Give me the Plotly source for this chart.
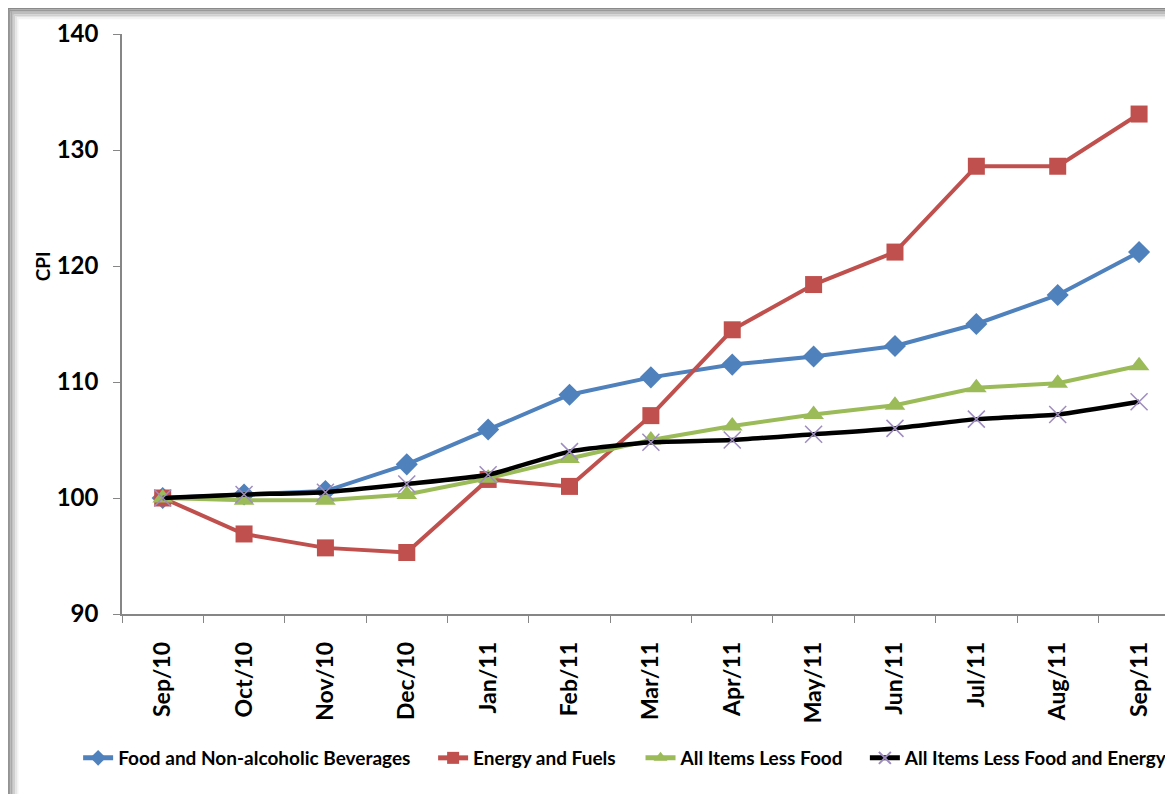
import plotly.graph_objects as go

months = ["Sep/10", "Oct/10", "Nov/10", "Dec/10", "Jan/11", "Feb/11", "Mar/11",
          "Apr/11", "May/11", "Jun/11", "Jul/11", "Aug/11", "Sep/11"]
food = [100.0, 100.3, 100.6, 102.9, 105.9, 108.9, 110.4, 111.5, 112.2, 113.1, 115.0, 117.5, 121.2]
energy = [100.0, 96.9, 95.7, 95.3, 101.6, 101.0, 107.1, 114.5, 118.4, 121.2, 128.6, 128.6, 133.1]
less_food = [100.0, 99.8, 99.8, 100.3, 101.7, 103.4, 105.0, 106.2, 107.2, 108.0, 109.5, 109.9, 111.4]
less_food_energy = [100.0, 100.3, 100.5, 101.2, 102.0, 104.0, 104.8, 105.0, 105.5, 106.0, 106.8, 107.2, 108.3]
y_ticks = [90, 100, 110, 120, 130, 140]

FONT = "Lato"
OFF = 8                      # browser body margin
W, H = 1173 - OFF, 794 - OFF
L, T = 122 - OFF, 34 - OFF
B = H - (614 - OFF)
PW, PH = W - L, H - T - B

def px_x(p):                 # page pixel -> paper x
    return (p - OFF - L) / PW

def px_y(p):                 # page pixel -> paper y
    return (H - B - (p - OFF)) / PH

fig = go.Figure()
fig.add_trace(go.Scatter(x=months, y=food, name="Food and Non-alcoholic Beverages",
                         legend="legend",
                         mode="lines+markers", line=dict(color="#4F81BD", width=4),
                         marker=dict(symbol="diamond", size=17, color="#4F81BD")))
fig.add_trace(go.Scatter(x=months, y=energy, name="Energy and Fuels",
                         legend="legend2",
                         mode="lines+markers", line=dict(color="#C0504D", width=4),
                         marker=dict(symbol="square", size=17, color="#C0504D")))
fig.add_trace(go.Scatter(x=months, y=less_food, name="All Items Less Food",
                         legend="legend3",
                         mode="lines+markers", line=dict(color="#9BBB59", width=4),
                         marker=dict(symbol="triangle-up", size=18, color="#9BBB59")))
fig.add_trace(go.Scatter(x=months, y=less_food_energy, name="All Items Less Food and Energy",
                         legend="legend4",
                         mode="lines+markers",
                         line=dict(color="#000000", width=4.5, shape="spline", smoothing=0.5),
                         marker=dict(symbol="x-thin", size=17, color="#8064A2",
                                     line=dict(color="#9E8CC0", width=1.5))))

# frame shadow (left and top)
shapes = []
greys = ["#8a8a8a", "#999999", "#aaaaaa", "#bcbcbc", "#cfcfcf", "#e2e2e2", "#f3f3f3"]
for i, g in enumerate(greys):
    shapes.append(dict(type="rect", xref="paper", yref="paper", layer="below",
                       x0=px_x(7 + i * 1.6), x1=px_x(7 + (i + 1) * 1.6),
                       y0=px_y(800), y1=px_y(8 + i * 1.6),
                       fillcolor=g, line=dict(width=0)))
    shapes.append(dict(type="rect", xref="paper", yref="paper", layer="below",
                       x0=px_x(7 + i * 1.6), x1=px_x(1180),
                       y0=px_y(8 + (i + 1) * 1.6), y1=px_y(8 + i * 1.6),
                       fillcolor=g, line=dict(width=0)))

def leg(text_start):
    return dict(orientation="h", x=px_x(text_start - 40), y=px_y(758),
                xanchor="left", yanchor="middle", itemsizing="constant",
                font=dict(family=FONT, size=19, color="#000000", weight="bold"),
                itemwidth=30, bgcolor="rgba(0,0,0,0)", borderwidth=0)

fig.update_layout(
    width=W, height=H,
    margin=dict(l=L, r=0, t=T, b=B),
    paper_bgcolor="white", plot_bgcolor="white",
    font=dict(family=FONT, color="#000000"),
    showlegend=True,
    legend=leg(118), legend2=leg(474), legend3=leg(682), legend4=leg(907),
    shapes=shapes,
    annotations=[dict(text="<b>CPI</b>", xref="paper", yref="paper", x=px_x(42), y=px_y(266),
                      textangle=-90, showarrow=False, font=dict(family=FONT, size=19),
                      xanchor="center", yanchor="middle")],
)
fig.update_xaxes(type="category", range=[-0.5, 12.38], showgrid=False, zeroline=False,
                 showline=True, linecolor="#868686", linewidth=1.5,
                 ticks="outside", tickson="boundaries", ticklen=7, tickcolor="#868686",
                 tickangle=-90, ticklabelstandoff=17,
                 tickfont=dict(family=FONT, size=23, color="#000000", weight="bold"))
fig.update_yaxes(range=[90, 140], tickvals=y_ticks, showgrid=False, zeroline=False,
                 showline=True, linecolor="#868686", linewidth=1.5,
                 ticks="outside", ticklen=7, tickcolor="#868686", ticklabelstandoff=10,
                 tickfont=dict(family=FONT, size=24, color="#000000", weight="bold"))

fig.write_html("out.html")
